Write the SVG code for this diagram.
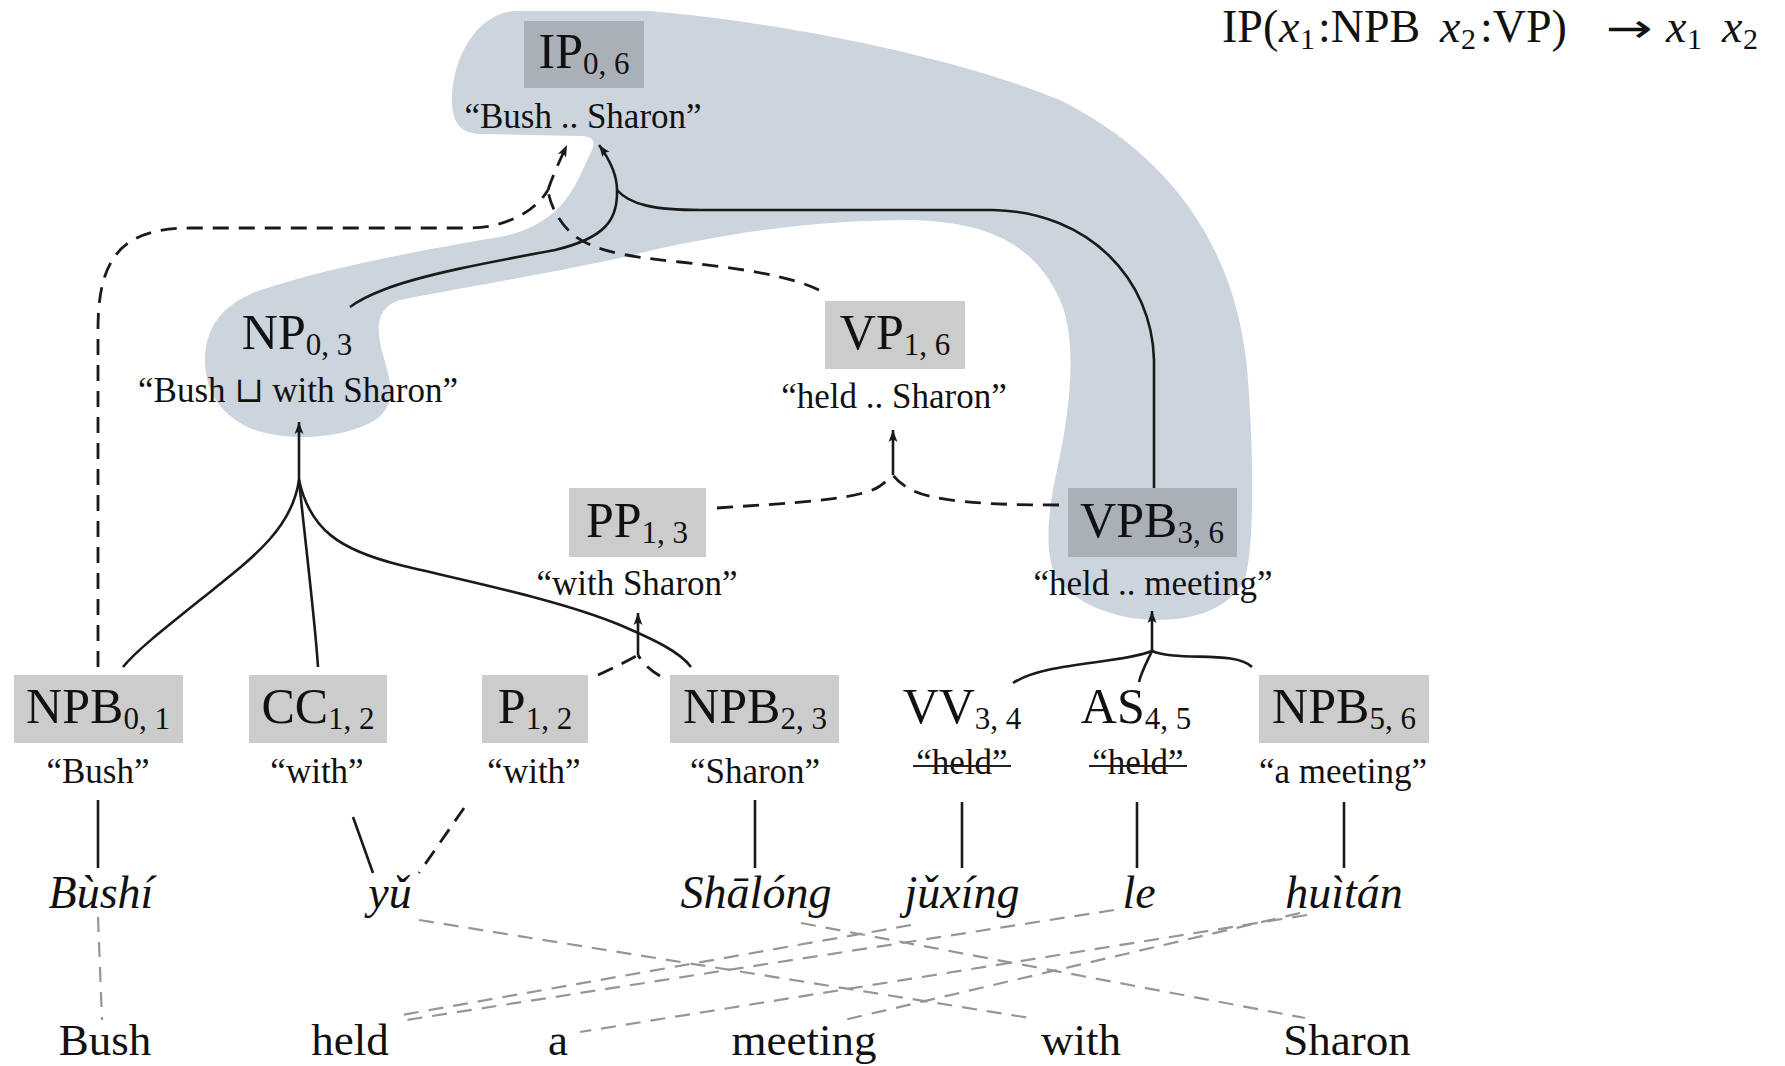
<svg xmlns="http://www.w3.org/2000/svg" width="1785" height="1066" viewBox="0 0 1785 1066">
  <style>
    text { font-family: "Liberation Serif", "DejaVu Serif", serif; fill: #111; }
    .lab { font-size: 50px; text-anchor: middle; }
    .sub { font-size: 31px; }
    .q { font-size: 35px; text-anchor: middle; }
    .py { font-size: 46px; font-style: italic; text-anchor: middle; }
    .en { font-size: 45px; text-anchor: middle; }
    .rule { font-size: 46px; }
    .rule .it { font-style: italic; }
    .rule .sb { font-size: 30px; }
    .arr { font-family: "DejaVu Sans", sans-serif; font-size: 40px; }
    .box { fill: #cccccc; }
    .box.dk { fill: #aab0b8; }
    .region { fill: #ccd4de; }
    .solid { fill: none; stroke: #1a1a1a; stroke-width: 2.6; }
    .dash { fill: none; stroke: #1a1a1a; stroke-width: 2.8; stroke-dasharray: 16 10; }
    .gdash { fill: none; stroke: #969696; stroke-width: 2.2; stroke-dasharray: 15 10; }
    .strike { stroke: #222; stroke-width: 2; }
  </style>
  <defs>
    <marker id="tip" markerUnits="userSpaceOnUse" markerWidth="16" markerHeight="16" viewBox="-13 -8 16 16" refX="0" refY="0" orient="auto">
      <path d="M0,0 L-12,-4.5 Q-8,0 -12,4.5 Z" fill="#1a1a1a"/>
    </marker>
  </defs>

  <!-- shaded region covering the rule IP(x1:NPB x2:VP) -->
  <g id="rule-region">
    <path class="region" d="M515,11 L648,11 C780,22 950,55 1060,100 C1180,160 1240,260 1248,380 C1254,460 1254,540 1246,575 C1235,605 1200,620 1158,620 C1110,620 1070,600 1055,575 C1044,550 1048,510 1058,465 C1070,410 1078,340 1060,300 C1035,245 990,222 910,220 C800,220 700,238 620,258 C540,275 450,290 400,300 C375,308 376,330 383,355 C392,385 398,408 370,423 C340,438 290,442 255,430 C220,417 205,390 205,360 C205,325 225,300 270,287 C330,268 420,250 500,237 C545,228 565,205 578,180 L592,150 C596,140 592,136 580,136 L480,134 C458,133 452,120 452,100 C452,60 475,14 515,11 Z"/>
  </g>

  <!-- rule text, top right -->
  <g id="rule-text">
    <text class="rule" y="42"><tspan x="1222">IP(</tspan><tspan class="it" x="1279">x</tspan><tspan class="sb" x="1300" y="49">1</tspan><tspan x="1318" y="42">:NPB</tspan><tspan class="it" x="1440">x</tspan><tspan class="sb" x="1461" y="49">2</tspan><tspan x="1480" y="42">:VP)</tspan><tspan class="it" x="1666">x</tspan><tspan class="sb" x="1687" y="49">1</tspan><tspan class="it" x="1722" y="42">x</tspan><tspan class="sb" x="1743" y="49">2</tspan></text>
    <text class="arr" transform="translate(1606,42) scale(1.4,1)" x="0" y="0">→</text>
  </g>

  <!-- hyperedges and word links -->
  <g id="connectors">
    <!-- IP <- NPB0,1 VP1,6 (dashed) -->
    <path class="dash" d="M98,667 L98,330 C98,262 118,228 190,228 L468,228 C505,228 535,212 548,190"/>
    <path class="dash" d="M819,290 C790,276 740,268 680,262 C620,256 590,250 570,232 C558,220 550,205 548,190"/>
    <path class="dash" d="M548,190 C553,175 560,160 567,145" marker-end="url(#tip)"/>
    <!-- IP <- NP0,3 VPB3,6 (solid) -->
    <path class="solid" d="M617,190 C617,175 610,160 599,145" marker-end="url(#tip)"/>
    <path class="solid" d="M617,190 C618,220 605,238 555,250 C490,262 420,275 383,290 Q362,298 350,307"/>
    <path class="solid" d="M617,190 C630,205 655,210 700,210 L993,210 C1090,212 1152,280 1154,360 L1154,488"/>
    <!-- NP0,3 <- NPB0,1 CC1,2 NPB2,3 -->
    <path class="solid" d="M299,480 L299,422" marker-end="url(#tip)"/>
    <path class="solid" d="M299,480 C292,530 250,560 200,600 C160,632 135,652 123,667"/>
    <path class="solid" d="M299,480 C305,540 315,620 318,667"/>
    <path class="solid" d="M299,480 C310,530 340,550 400,565 C470,582 560,600 620,625 C655,640 680,652 691,667"/>
    <!-- PP1,3 <- P1,2 NPB2,3 -->
    <path class="dash" d="M598,675 Q622,664 638,655"/>
    <path class="dash" d="M660,676 Q645,667 638,655"/>
    <path class="solid" d="M638,655 L638,613" marker-end="url(#tip)"/>
    <!-- VP1,6 <- PP1,3 VPB3,6 -->
    <path class="dash" d="M717,508 C790,503 860,500 880,486 Q888,480 893,475"/>
    <path class="dash" d="M1059,505 C990,505 930,502 908,488 Q898,482 893,475"/>
    <path class="solid" d="M893,475 L893,430" marker-end="url(#tip)"/>
    <!-- VPB3,6 <- VV3,4 AS4,5 NPB5,6 -->
    <path class="solid" d="M1013,683 C1045,662 1120,664 1152,651 C1178,662 1236,650 1252,667"/>
    <path class="solid" d="M1139,682 C1142,670 1148,660 1152,651"/>
    <path class="solid" d="M1152,651 L1152,611" marker-end="url(#tip)"/>
    <!-- leaves to source words -->
    <path class="solid" d="M98,800 L98,868"/>
    <path class="solid" d="M353,817 L373,873"/>
    <path class="dash" d="M464,808 L419,873"/>
    <path class="solid" d="M755,800 L755,868"/>
    <path class="solid" d="M962,802 L962,868"/>
    <path class="solid" d="M1137,802 L1137,868"/>
    <path class="solid" d="M1344,802 L1344,868"/>
    <!-- word alignment -->
    <path class="gdash" d="M98,917 L102,1020"/>
    <path class="gdash" d="M419,920 L1030,1018"/>
    <path class="gdash" d="M801,923 L1305,1018"/>
    <path class="gdash" d="M911,925 L396,1016"/>
    <path class="gdash" d="M1114,910 L400,1021"/>
    <path class="gdash" d="M1307,915 L580,1032"/>
    <path class="gdash" d="M1300,913 L844,1020"/>
  </g>

  <!-- nodes -->
  <g id="IP06">
    <rect class="box dk" x="524" y="21" width="120" height="67"/>
    <text class="lab" x="584" y="68">IP<tspan class="sub" dy="6">0, 6</tspan></text>
    <text class="q" x="583" y="128">“Bush .. Sharon”</text>
  </g>
  <g id="NP03">
    <text class="lab" x="297" y="349">NP<tspan class="sub" dy="6">0, 3</tspan></text>
    <text class="q" x="298" y="402">“Bush ⊔ with Sharon”</text>
  </g>
  <g id="VP16">
    <rect class="box" x="825" y="301" width="140" height="68"/>
    <text class="lab" x="895" y="349">VP<tspan class="sub" dy="6">1, 6</tspan></text>
    <text class="q" x="894" y="408">“held .. Sharon”</text>
  </g>
  <g id="PP13">
    <rect class="box" x="569" y="488" width="137" height="69"/>
    <text class="lab" x="637" y="537">PP<tspan class="sub" dy="6">1, 3</tspan></text>
    <text class="q" x="637" y="595">“with Sharon”</text>
  </g>
  <g id="VPB36">
    <rect class="box dk" x="1068" y="488" width="169" height="69"/>
    <text class="lab" x="1152" y="537">VPB<tspan class="sub" dy="6">3, 6</tspan></text>
    <text class="q" x="1153" y="595">“held .. meeting”</text>
  </g>
  <g id="NPB01">
    <rect class="box" x="14" y="675" width="169" height="68"/>
    <text class="lab" x="98" y="723">NPB<tspan class="sub" dy="6">0, 1</tspan></text>
    <text class="q" x="98" y="783">“Bush”</text>
  </g>
  <g id="CC12">
    <rect class="box" x="249" y="675" width="138" height="68"/>
    <text class="lab" x="318" y="723">CC<tspan class="sub" dy="6">1, 2</tspan></text>
    <text class="q" x="317" y="783">“with”</text>
  </g>
  <g id="P12">
    <rect class="box" x="482" y="675" width="106" height="68"/>
    <text class="lab" x="535" y="723">P<tspan class="sub" dy="6">1, 2</tspan></text>
    <text class="q" x="534" y="783">“with”</text>
  </g>
  <g id="NPB23">
    <rect class="box" x="670" y="675" width="169" height="68"/>
    <text class="lab" x="755" y="723">NPB<tspan class="sub" dy="6">2, 3</tspan></text>
    <text class="q" x="755" y="783">“Sharon”</text>
  </g>
  <g id="VV34">
    <text class="lab" x="962" y="723">VV<tspan class="sub" dy="6">3, 4</tspan></text>
    <text class="q" x="962" y="774">“held”</text>
    <line class="strike" x1="913" y1="766" x2="1011" y2="766"/>
  </g>
  <g id="AS45">
    <text class="lab" x="1136" y="723">AS<tspan class="sub" dy="6">4, 5</tspan></text>
    <text class="q" x="1138" y="774">“held”</text>
    <line class="strike" x1="1089" y1="766" x2="1187" y2="766"/>
  </g>
  <g id="NPB56">
    <rect class="box" x="1259" y="675" width="170" height="68"/>
    <text class="lab" x="1344" y="723">NPB<tspan class="sub" dy="6">5, 6</tspan></text>
    <text class="q" x="1343" y="783">“a meeting”</text>
  </g>

  <!-- source words -->
  <g id="source-words">
    <text class="py" x="101" y="908">Bùshí</text>
    <text class="py" x="390" y="908">yǔ</text>
    <text class="py" x="756" y="908">Shālóng</text>
    <text class="py" x="962" y="908">jǔxíng</text>
    <text class="py" x="1139" y="908">le</text>
    <text class="py" x="1344" y="908">huìtán</text>
  </g>

  <!-- target words -->
  <g id="target-words">
    <text class="en" x="105" y="1055">Bush</text>
    <text class="en" x="350" y="1055">held</text>
    <text class="en" x="558" y="1055">a</text>
    <text class="en" x="804" y="1055">meeting</text>
    <text class="en" x="1081" y="1055">with</text>
    <text class="en" x="1347" y="1055">Sharon</text>
  </g>
</svg>
